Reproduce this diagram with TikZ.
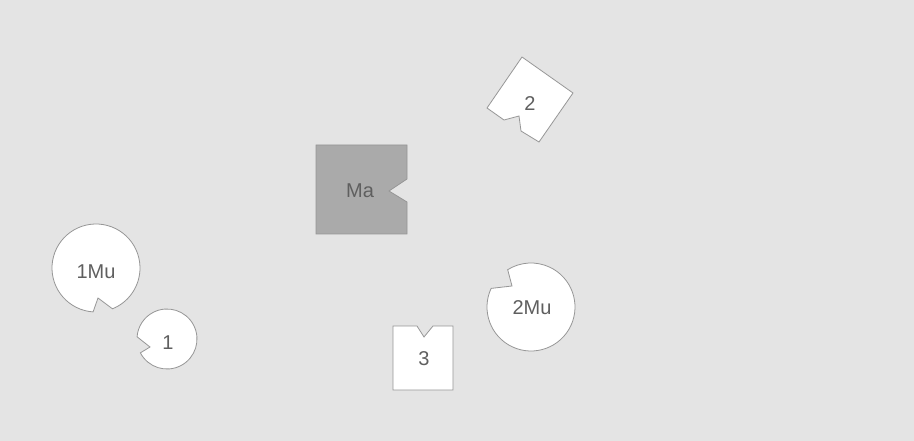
\documentclass[tikz,border=0pt]{standalone}
\usepackage{fontspec}
\setmainfont{Liberation Sans}
\usetikzlibrary{calc}
\definecolor{bgc}{RGB}{228,228,228}
\definecolor{edgec}{RGB}{150,150,150}
\definecolor{mafill}{RGB}{170,170,170}
\definecolor{txtc}{RGB}{95,95,95}
\tikzset{
  piece/.style={draw=edgec, line width=0.8pt, fill=white, line join=miter},
  darkpiece/.style={draw=edgec, line width=0.8pt, fill=mafill},
  lbl/.style={font=\fontsize{20}{20}\selectfont, text=txtc, inner sep=0pt},
}
\begin{document}
\begin{tikzpicture}[x=1pt,y=-1pt]
\fill[bgc] (0,0) rectangle (914,441);
\useasboundingbox (0,0) rectangle (914,441);
% Ma
\draw[darkpiece] (316,145) -- (407,145) -- (407,179) -- (389,191) -- (407,202) -- (407,234) -- (316,234) -- cycle;
\node[lbl] (ma) at (360,191) {Ma};
% 2
\draw[piece] (522,57) -- (573,93) -- (539,142) -- (521,131) -- (519,116) -- (504,120) -- (487,108) -- cycle;
\node[lbl] (two) at (530,104) {2};
% 1Mu
\draw[piece] (98,298) -- ($(96,268)+(93.8:44)$) arc[start angle=93.8, end angle=428, radius=44] -- cycle;
\node[lbl] (mu1) at (96,272) {1Mu};
% 1
\draw[piece] (150,347) -- ($(167,339)+(152.5:30)$) arc[start angle=152.5, end angle=-175.8, radius=30] -- cycle;
\node[lbl] (one) at (168,343) {1};
% 2Mu
\draw[piece] (512,286) -- ($(531,307)+(205:44)$) arc[start angle=205, end angle=-122, radius=44] -- cycle;
\node[lbl] (mu2) at (532,308) {2Mu};
% 3
\draw[piece] (393,326) -- (417,326) -- (424,337) -- (433,326) -- (453,326) -- (453,390) -- (393,390) -- cycle;
\node[lbl] (three) at (424,359) {3};
\end{tikzpicture}
\end{document}
